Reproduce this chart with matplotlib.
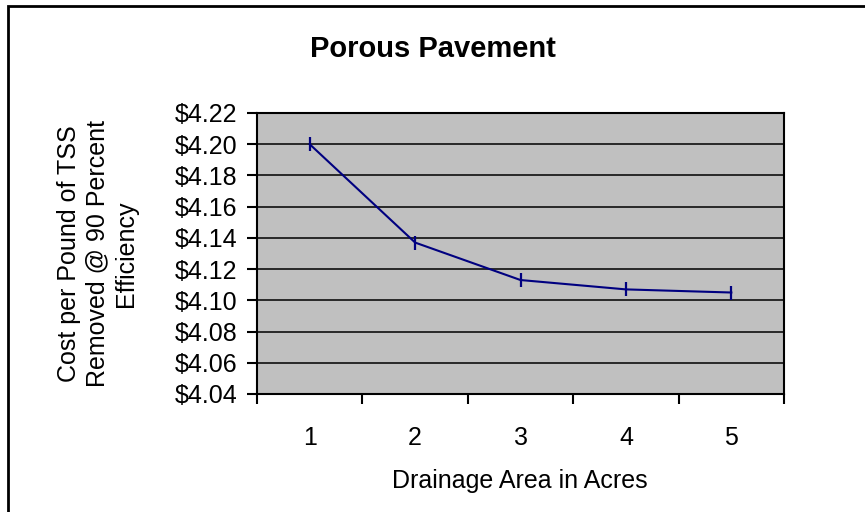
import numpy as np
import matplotlib.pyplot as plt
from matplotlib.ticker import FuncFormatter, MultipleLocator
from matplotlib.patches import Rectangle

plt.rcParams['font.family'] = ['Liberation Sans', 'DejaVu Sans']

# data
acres = [1, 2, 3, 4, 5]
cost = [4.200, 4.137, 4.113, 4.107, 4.105]
x_labels = ['1', '2', '3', '4', '5']


def main():
    fig = plt.figure(figsize=(8.65, 5.12), dpi=100)
    ax = fig.add_axes([0.2971, 0.2305, 0.6093, 0.5488])

    ax.set_facecolor('#C0C0C0')
    ax.plot(acres, cost, color='#000080', lw=1.5, marker='|',
            markersize=10, mew=1.6, zorder=3)

    ax.set_ylim(4.04, 4.22)
    ax.yaxis.set_major_locator(MultipleLocator(0.02))
    ax.yaxis.set_major_formatter(FuncFormatter(lambda v, p: '${:.2f}'.format(v)))
    ax.grid(axis='y', color='black', lw=1.1, zorder=1)
    ax.set_axisbelow(True)

    ax.set_xlim(0.5, 5.5)
    ax.set_xticks(np.arange(0.5, 6, 1))
    ax.set_xticklabels([])
    ax.set_xticks(acres, minor=True)
    ax.set_xticklabels(x_labels, minor=True)
    ax.tick_params(axis='x', which='minor', length=0, pad=23, labelsize=18)
    ax.tick_params(axis='x', which='major', length=7, width=1.5, direction='out')
    ax.tick_params(axis='y', length=7, width=1.5, direction='out', pad=7,
                   labelsize=18)

    for s in ax.spines.values():
        s.set_linewidth(1.5)
        s.set_color('black')

    fig.text(0.5, 0.905, 'Porous Pavement', ha='center', va='center',
             fontsize=21, fontweight='bold')
    fig.text(0.601, 0.06, 'Drainage Area in Acres', ha='center',
             va='center', fontsize=18)
    fig.text(0.113, 0.505,
             'Cost per Pound of TSS\nRemoved @ 90 Percent\nEfficiency',
             ha='center', va='center', rotation=90, fontsize=18,
             linespacing=1.25)

    # outer chart border (cropped at right and bottom in the reference)
    fig.patches.append(Rectangle((8 / 865, -0.1), 1.2, 1 - 6 / 512 + 0.1,
                                 transform=fig.transFigure, fill=False,
                                 edgecolor='black', lw=2))

    fig.savefig('out.png', dpi=100)


if __name__ == "__main__":
    main()
